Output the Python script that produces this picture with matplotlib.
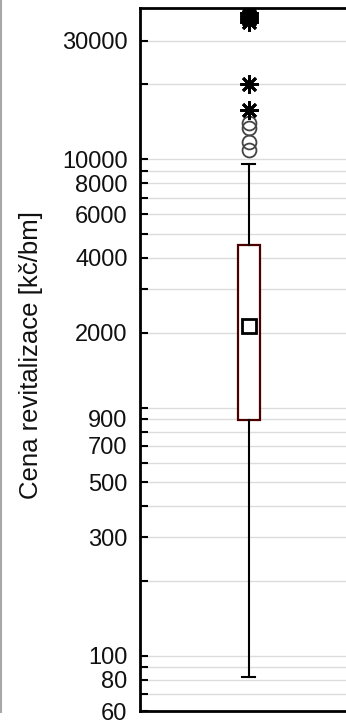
import matplotlib
matplotlib.use("Agg")
import matplotlib.pyplot as plt
from matplotlib.lines import Line2D
from matplotlib.ticker import FixedLocator, NullFormatter, FixedFormatter

# box plot values (kč/bm)
whisker_low = 82
q1 = 890
median = 2120
q3 = 4500
whisker_high = 9550
outliers = [14000, 13300, 11700, 10900]
extremes = [38600, 37600, 36600, 35600, 20000, 15800]

major_ticks = [60, 80, 100, 300, 500, 700, 900, 2000, 4000, 6000, 8000, 10000, 30000]
minor_ticks = [70, 90, 200, 400, 600, 800, 1000, 3000, 5000, 7000, 9000, 20000]

plt.rcParams['font.family'] = ['Liberation Sans', 'DejaVu Sans']

fig = plt.figure(figsize=(3.46, 7.21), dpi=100)
ax = fig.add_axes([140/346, 10/721, 260/346, 703/721])

pos = 0.419
stats = [dict(whislo=whisker_low, q1=q1, med=median, q3=q3, whishi=whisker_high, fliers=[])]
ax.bxp(stats, positions=[pos], widths=[22/260], showfliers=False, patch_artist=True,
       boxprops=dict(facecolor='white', edgecolor='#4d0000', linewidth=1.6),
       whiskerprops=dict(color='black', linewidth=1.5),
       capprops=dict(color='black', linewidth=1.5),
       capwidths=[13/260],
       medianprops=dict(linewidth=0))
ax.plot([pos], [median], marker='s', ms=10, mfc='none', mec='black', mew=2, zorder=4)
ax.plot([pos]*len(outliers), outliers, ls='none', marker='o', ms=10, mfc='none',
        mec='#444444', mew=1.3, zorder=4)
ax.plot([pos]*len(extremes), extremes, ls='none', marker=(8, 2, 0), ms=13,
        mec='black', mew=2, zorder=4)

ax.set_yscale('log')
ax.set_ylim(60, 40600)
ax.set_xlim(0, 1)
ax.yaxis.set_major_locator(FixedLocator(major_ticks))
ax.yaxis.set_major_formatter(FixedFormatter([str(t) for t in major_ticks]))
ax.yaxis.set_minor_locator(FixedLocator(minor_ticks))
ax.yaxis.set_minor_formatter(NullFormatter())
ax.tick_params(axis='y', which='both', direction='in', length=6, width=1.5, pad=9,
               labelsize=17, colors='black')
ax.tick_params(axis='y', labelcolor='#111111')
ax.tick_params(axis='x', bottom=False, labelbottom=False)
ax.grid(True, which='both', axis='y', color='#dcdcdc', linewidth=1.0)
ax.set_axisbelow(True)
for side in ['left', 'top', 'bottom']:
    ax.spines[side].set_linewidth(2)
ax.spines['right'].set_visible(False)

ax.set_ylabel('Cena revitalizace [kč/bm]', fontsize=18.5, color='#111111')
ax.yaxis.set_label_coords(-97/260, 0.506)

fig.add_artist(Line2D([1.5/346, 1.5/346], [9/721, 1], color='#a8a8a8', linewidth=1.5))

fig.savefig('out.png', dpi=100)
